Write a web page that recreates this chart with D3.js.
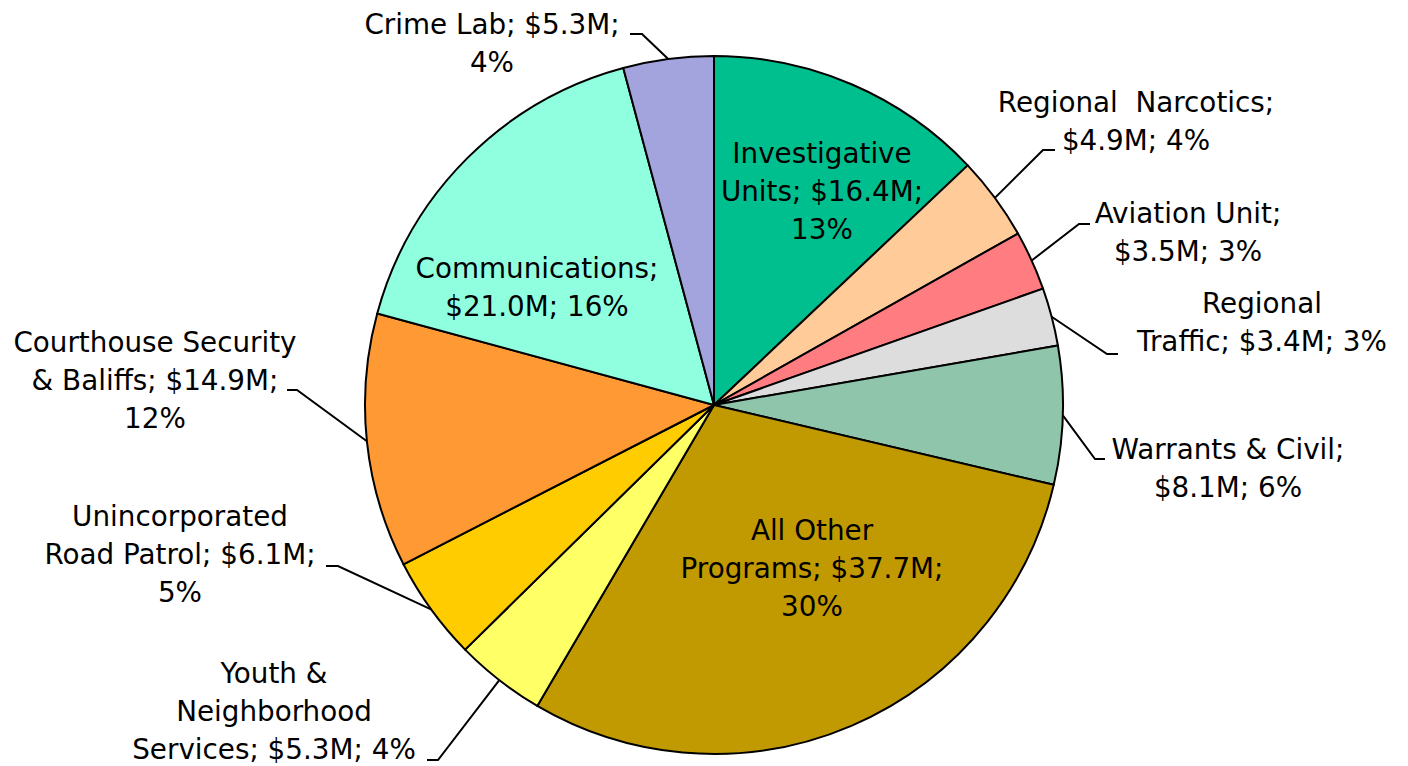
<!DOCTYPE html>
<html>
<head>
<meta charset="utf-8">
<script src="https://cdn.jsdelivr.net/npm/d3@7"></script>
<style>
  html, body { margin: 0; padding: 0; background: #fff; }
  svg { display: block; }
  text { font-family: "DejaVu Sans", Verdana, sans-serif; font-size: 27.8px; fill: #000; white-space: pre; }
</style>
</head>
<body>
<svg id="chart" width="1408" height="766"></svg>
<script>
// Program budget, in millions of dollars, clockwise from 12 o'clock
const programs = [
  "Investigative Units", "Regional  Narcotics", "Aviation Unit", "Regional Traffic",
  "Warrants & Civil", "All Other Programs", "Youth & Neighborhood Services",
  "Unincorporated Road Patrol", "Courthouse Security & Baliffs", "Communications", "Crime Lab"
];
const budgets = [16.4, 4.9, 3.5, 3.4, 8.1, 37.7, 5.3, 6.1, 14.9, 21.0, 5.3];
const shares = ["13%", "4%", "3%", "3%", "6%", "30%", "4%", "5%", "12%", "16%", "4%"];
const colors = ["#00BF8F", "#FFCC99", "#FF7C80", "#DDDDDD", "#8FC5AB", "#C09A00",
                "#FFFF66", "#FFCC00", "#FF9933", "#90FFE0", "#A3A3DD"];

// How each label wraps onto lines ({v} value, {p} share)
const labelLines = [
  ["Investigative", "Units; {v};", "{p}"],
  ["Regional  Narcotics;", "{v}; {p}"],
  ["Aviation Unit;", "{v}; {p}"],
  ["Regional", "Traffic; {v}; {p}"],
  ["Warrants & Civil;", "{v}; {p}"],
  ["All Other", "Programs; {v};", "{p}"],
  ["Youth &", "Neighborhood", "Services; {v}; {p}"],
  ["Unincorporated", "Road Patrol; {v};", "{p}"],
  ["Courthouse Security", "& Baliffs; {v};", "{p}"],
  ["Communications;", "{v}; {p}"],
  ["Crime Lab; {v};", "{p}"]
];

// Label placement: centre x, first baseline, and leader elbow/end (null = inside slice)
const labelLayout = [
  { x: 822,  y: 163, elbow: null },
  { x: 1136, y: 112, elbow: [1043, 150], end: [1055, 150] },
  { x: 1188, y: 223, elbow: [1079, 224], end: [1090, 224] },
  { x: 1262, y: 313, elbow: [1107, 354], end: [1118, 354] },
  { x: 1228, y: 459, elbow: [1095, 459], end: [1105, 459] },
  { x: 812,  y: 540, elbow: null },
  { x: 274,  y: 683, elbow: [438, 760],  end: [427, 760] },
  { x: 180,  y: 526, elbow: [338, 566],  end: [326, 566] },
  { x: 155,  y: 352, elbow: [297, 390],  end: [287, 390] },
  { x: 537,  y: 278, elbow: null },
  { x: 492,  y: 34,  elbow: [642, 34],   end: [630, 34] }
];

const cx = 714, cy = 405, radius = 349, lineStep = 38;

const svg = d3.select("#chart");
const g = svg.append("g").attr("transform", `translate(${cx},${cy})`);

const slices = programs.map((name, i) => ({ name, value: budgets[i], share: shares[i], i }));
const pie = d3.pie().value(d => d.value).sort(null);
const arcs = pie(slices);
const arc = d3.arc().innerRadius(0).outerRadius(radius);

g.selectAll("path.slice")
  .data(arcs)
  .join("path")
  .attr("class", "slice")
  .attr("d", arc)
  .attr("fill", d => colors[d.data.i])
  .attr("stroke", "#000")
  .attr("stroke-width", 2)
  .attr("stroke-linejoin", "round");

// Leader lines run from the slice's outer edge at its mid angle
const leaders = svg.append("g");
arcs.forEach(a => {
  const lay = labelLayout[a.data.i];
  if (!lay.elbow) return;
  const mid = (a.startAngle + a.endAngle) / 2;
  const px = cx + radius * Math.sin(mid);
  const py = cy - radius * Math.cos(mid);
  leaders.append("polyline")
    .attr("points", [[px, py], lay.elbow, lay.end].map(p => p.join(",")).join(" "))
    .attr("fill", "none")
    .attr("stroke", "#000")
    .attr("stroke-width", 2);
});

// Labels
const labels = svg.append("g");
arcs.forEach(a => {
  const d = a.data;
  const lay = labelLayout[d.i];
  const t = labels.append("text").attr("text-anchor", "middle");
  labelLines[d.i].forEach((ln, k) => {
    const s = ln.replace("{v}", "$" + d.value.toFixed(1) + "M").replace("{p}", d.share);
    t.append("tspan").attr("x", lay.x).attr("y", lay.y + k * lineStep).text(s);
  });
});
</script>
</body>
</html>
